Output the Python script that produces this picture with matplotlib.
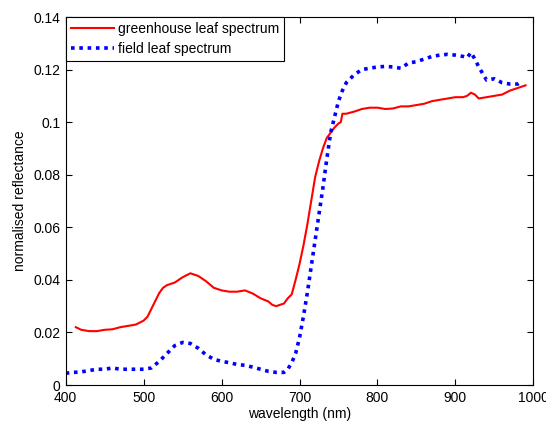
import matplotlib
matplotlib.use('Agg')
import matplotlib.pyplot as plt
import numpy as np

plt.rcParams['font.family'] = ['Liberation Sans', 'DejaVu Sans']

# greenhouse leaf spectrum
wl_green = [413, 420, 430, 440, 450, 460, 470, 480, 490, 500, 505, 510, 515, 520, 525, 530,
            540, 550, 560, 570, 580, 590, 600, 610, 620, 630, 640, 650, 660, 665, 670, 680,
            685, 690, 695, 700, 705, 710, 715, 720, 725, 730, 735, 740, 745, 750, 753, 755,
            760, 770, 780, 790, 800, 810, 820, 830, 840, 850, 860, 870, 880, 890, 900, 910,
            915, 920, 925, 930, 940, 950, 960, 970, 980, 990]
refl_green = [0.022, 0.021, 0.0205, 0.0205, 0.021, 0.0212, 0.022, 0.0225, 0.023, 0.0245, 0.026, 0.029,
              0.032, 0.035, 0.037, 0.038, 0.039, 0.041, 0.0425, 0.0415, 0.0395, 0.037, 0.036, 0.0355,
              0.0355, 0.036, 0.0348, 0.033, 0.0318, 0.0305, 0.030, 0.031, 0.033, 0.0345, 0.040, 0.046,
              0.053, 0.061, 0.070, 0.079, 0.085, 0.090, 0.094, 0.096, 0.098, 0.0995, 0.100, 0.1032,
              0.1032, 0.104, 0.105, 0.1055, 0.1055, 0.105, 0.1052, 0.106, 0.106, 0.1065, 0.107, 0.108,
              0.1085, 0.109, 0.1095, 0.1095, 0.110, 0.1112, 0.1105, 0.109, 0.1095, 0.110, 0.1105, 0.112,
              0.113, 0.114]

# field leaf spectrum
wl_field = [400, 410, 420, 430, 440, 450, 460, 470, 480, 490, 500, 510, 520, 530, 540, 550,
            560, 570, 580, 590, 600, 610, 620, 630, 640, 650, 660, 670, 680, 685, 690, 695,
            700, 705, 710, 715, 720, 725, 730, 735, 740, 745, 750, 755, 760, 770, 780, 790,
            800, 810, 820, 830, 840, 850, 860, 870, 880, 890, 900, 910, 915, 920, 925, 930,
            940, 950, 960, 970, 980, 985]
refl_field = [0.0045, 0.0048, 0.005, 0.0055, 0.006, 0.006, 0.0065, 0.006, 0.006, 0.006, 0.006, 0.0065,
              0.009, 0.012, 0.015, 0.0162, 0.0158, 0.014, 0.0115, 0.0098, 0.009, 0.0085, 0.0078, 0.0075,
              0.0068, 0.006, 0.0052, 0.0048, 0.0048, 0.006, 0.0085, 0.012, 0.018, 0.026, 0.035, 0.045,
              0.055, 0.065, 0.075, 0.086, 0.096, 0.102, 0.108, 0.112, 0.115, 0.118, 0.120, 0.1205,
              0.121, 0.1212, 0.121, 0.1205, 0.1225, 0.123, 0.124, 0.125, 0.1255, 0.1258, 0.1255, 0.125,
              0.1245, 0.1265, 0.124, 0.121, 0.116, 0.1165, 0.115, 0.1145, 0.1145, 0.1155]

fig = plt.figure(figsize=(5.46, 4.23), dpi=100)
ax = fig.add_axes([0.1203, 0.0898, 0.8565, 0.870])

ax.plot(wl_green, refl_green, color='red', linewidth=1.5, label='greenhouse leaf spectrum')
ax.plot(wl_field, refl_field, color='blue', linewidth=2.6, dashes=(1, 1.3),
        label='field leaf spectrum')

ax.set_xlim(400, 1000)
ax.set_ylim(0, 0.14)
ax.set_xticks(np.arange(400, 1001, 100))
ax.set_yticks(np.arange(0, 0.141, 0.02))
ax.set_yticklabels(['0', '0.02', '0.04', '0.06', '0.08', '0.1', '0.12', '0.14'])
ax.tick_params(direction='in', top=True, right=True, labelsize=10, length=4, pad=4)
ax.set_xlabel('wavelength (nm)', fontsize=10, labelpad=2)
ax.set_ylabel('normalised reflectance', fontsize=10, labelpad=4)

leg = ax.legend(loc='upper left', fontsize=10, fancybox=False, framealpha=1,
                edgecolor='black', borderaxespad=0, handlelength=3.1,
                handletextpad=0.3, labelspacing=0.45, borderpad=0.35)
leg.get_frame().set_linewidth(0.8)

fig.savefig('out.png', dpi=100)
